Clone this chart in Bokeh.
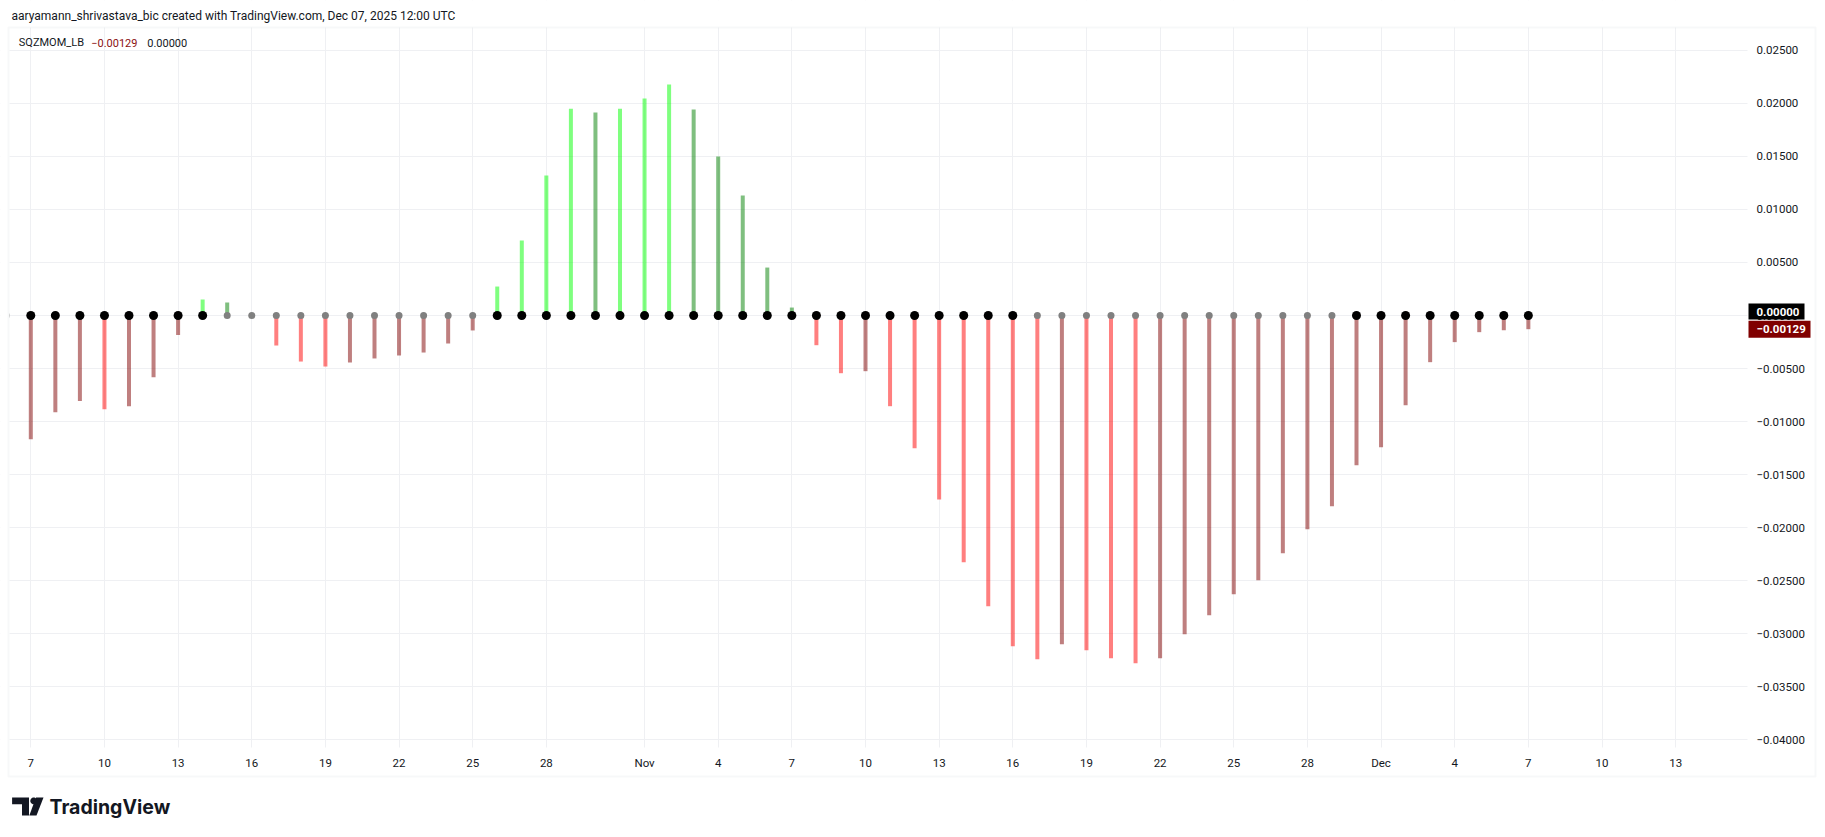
import math
import pandas as pd
from bokeh.plotting import figure
from bokeh.models import (ColumnDataSource, FixedTicker, Label, Range1d,
                          CustomJSTickFormatter, BoxAnnotation, PolyAnnotation)
from bokeh.embed import file_html
from bokeh.resources import INLINE

# ---------------- data ----------------
start_date = "2025-10-06"
end_date = "2025-12-07"
dates = pd.date_range(start_date, end_date, freq="D")

momentum = [
    # Oct 6 .. Oct 31
    -0.01250, -0.01166, -0.00911, -0.00807, -0.00883, -0.00855, -0.00581, -0.00185,
    0.00150, 0.00123, -0.00020, -0.00283, -0.00434, -0.00481, -0.00443, -0.00405,
    -0.00377, -0.00349, -0.00264, -0.00141, 0.00273, 0.00707, 0.01320, 0.01950,
    0.01914, 0.01950,
    # Nov 1 .. Nov 30
    0.02046, 0.02178, 0.01942, 0.01499, 0.01131, 0.00452, 0.00075, -0.00280,
    -0.00544, -0.00525, -0.00855, -0.01251, -0.01735, -0.02325, -0.02740, -0.03117,
    -0.03240, -0.03098, -0.03155, -0.03231, -0.03278, -0.03232, -0.03004, -0.02825,
    -0.02627, -0.02495, -0.02241, -0.02015, -0.01798, -0.01411,
    # Dec 1 .. Dec 7
    -0.01241, -0.00846, -0.00440, -0.00251, -0.00157, -0.00139, -0.00129,
]

# squeeze state per bar (True = squeeze on -> black dot, False -> gray dot)
sqz_on = (
    [False]                 # Oct 6
    + [True] * 8            # Oct 7 - Oct 14
    + [False] * 11          # Oct 15 - Oct 25
    + [True] * 22           # Oct 26 - Nov 16
    + [False] * 13          # Nov 17 - Nov 29
    + [True] * 8            # Nov 30 - Dec 7
)

tick_dates = ["2025-10-07", "2025-10-10", "2025-10-13", "2025-10-16", "2025-10-19",
              "2025-10-22", "2025-10-25", "2025-10-28", "2025-11-01", "2025-11-04",
              "2025-11-07", "2025-11-10", "2025-11-13", "2025-11-16", "2025-11-19",
              "2025-11-22", "2025-11-25", "2025-11-28", "2025-12-01", "2025-12-04",
              "2025-12-07", "2025-12-10", "2025-12-13"]
tick_labels = ["7", "10", "13", "16", "19", "22", "25", "28", "Nov", "4", "7", "10",
               "13", "16", "19", "22", "25", "28", "Dec", "4", "7", "10", "13"]

y_ticks = [-0.040, -0.035, -0.030, -0.025, -0.020, -0.015, -0.010, -0.005,
           0.0, 0.005, 0.010, 0.015, 0.020, 0.025]

header_text = "aaryamann_shrivastava_bic created with TradingView.com, Dec 07, 2025 12:00 UTC"
indicator_name = "SQZMOM_LB"
last_value_text = "\u22120.00129"
zero_value_text = "0.00000"
brand_text = "TradingView"

# ---------------- derived ----------------
origin = pd.Timestamp("2025-10-07")
xs = [(d - origin).days for d in dates]
tick_x = [(pd.Timestamp(t) - origin).days for t in tick_dates]

LIME, GREEN, RED, MAROON = "#00FF00", "#008000", "#FF0000", "#800000"
bar_colors = []
for i, v in enumerate(momentum):
    prev = momentum[i - 1] if i > 0 else v
    if v > 0:
        bar_colors.append(LIME if v > prev else GREEN)
    else:
        bar_colors.append(RED if v < prev else MAROON)
dot_colors = ["#000000" if s else "#808080" for s in sqz_on]
dot_sizes = [9 if s else 7 for s in sqz_on]

src = ColumnDataSource(dict(x=xs, top=momentum, color=bar_colors,
                            dot=dot_colors, size=dot_sizes))

# ---------------- canvas geometry (pixels) ----------------
W, H = 1817, 829
PX_PER_DAY = 24.55
X_FIRST_PX = 30.3          # pixel of first tick day
PX_PER_UNIT = 10608.0
ZERO_PX = 315.0

X0 = -X_FIRST_PX / PX_PER_DAY
X1 = X0 + W / PX_PER_DAY
Y1 = ZERO_PX / PX_PER_UNIT
Y0 = -(H - ZERO_PX) / PX_PER_UNIT


def px_x(px):
    return X0 + px / PX_PER_DAY


def px_y(py):
    return (ZERO_PX - py) / PX_PER_UNIT


def val_px(v):
    return ZERO_PX - v * PX_PER_UNIT


PLOT_L, PLOT_R, PLOT_T, PLOT_B = 9, 1747, 27, 747

FONT = "Roboto"
TXT = "#131722"

p = figure(width=W, height=H, x_range=Range1d(X0, X1), y_range=Range1d(Y0, Y1),
           output_backend="svg", toolbar_location=None, y_axis_location="right",
           min_border_left=0, min_border_right=0, min_border_top=0, min_border_bottom=0)
p.outline_line_color = None
p.background_fill_color = "white"
p.border_fill_color = "white"

# axes (labels drawn inside the canvas, like TradingView's scales)
p.xaxis.ticker = FixedTicker(ticks=tick_x)
p.xaxis.major_label_overrides = {int(t): lab for t, lab in zip(tick_x, tick_labels)}
p.yaxis.ticker = FixedTicker(ticks=y_ticks)
p.yaxis.formatter = CustomJSTickFormatter(
    code="return (tick < -1e-12 ? '\u2212' : '') + Math.abs(tick).toFixed(5);")
for ax in (p.xaxis[0], p.yaxis[0]):
    ax.axis_line_color = None
    ax.major_tick_line_color = None
    ax.minor_tick_line_color = None
    ax.major_tick_in = 0
    ax.major_tick_out = 0
    ax.minor_tick_in = 0
    ax.minor_tick_out = 0
    ax.major_label_text_font = FONT
    ax.major_label_text_font_size = "11.5px"
    ax.major_label_text_color = TXT
p.xaxis.major_label_standoff = -(H - 755)
p.yaxis.major_label_standoff = -(W - 1756)

p.grid.grid_line_color = "#EFF0F3"
p.grid.grid_line_width = 1

# white masks so grid lines stay inside the pane
for kw in (dict(left=px_x(PLOT_R)), dict(bottom=px_y(PLOT_T)), dict(top=px_y(PLOT_B))):
    p.add_layout(BoxAnnotation(fill_color="white", fill_alpha=1, line_color=None,
                               level="underlay", **kw))

# histogram bars and squeeze dots
p.vbar(x="x", top="top", bottom=0, width=0.163, fill_color="color", fill_alpha=0.5,
       line_color=None, source=src)
p.scatter(x="x", y=0, size="size", fill_color="dot", line_color=None, source=src)

# left edge of the pane clips the partially visible first bar
p.add_layout(BoxAnnotation(right=px_x(PLOT_L), fill_color="white", fill_alpha=1,
                           line_color=None, level="annotation"))

# outer pane border
p.add_layout(BoxAnnotation(left=px_x(8), right=px_x(1815), top=px_y(27), bottom=px_y(776),
                           fill_alpha=0, line_color="#E6E8EC", line_width=2,
                           level="annotation"))


def txt(px, py, text, size="12px", color=TXT, style="normal", font=FONT):
    p.add_layout(Label(x=px_x(px), y=px_y(py), text=text, text_font=font,
                       text_font_size=size, text_color=color, text_font_style=style,
                       text_baseline="middle", text_align="left"))


# header & legend
txt(11, 15, header_text, size="12px")
txt(18.3, 42, indicator_name, size="11px")
txt(90.7, 42, last_value_text, size="11px", color="#8B1010")
txt(146.7, 42, zero_value_text, size="11px")

# price labels on the right scale
last_c = val_px(momentum[-1])
zero_c = val_px(0.0) - 4
p.add_layout(BoxAnnotation(left=px_x(1748), right=px_x(1810),
                           top=px_y(last_c - 8.5), bottom=px_y(last_c + 8.5),
                           fill_color="#800000", fill_alpha=1, line_color=None,
                           level="annotation"))
p.add_layout(BoxAnnotation(left=px_x(1748), right=px_x(1804),
                           top=px_y(zero_c - 8), bottom=px_y(zero_c + 8),
                           fill_color="#000000", fill_alpha=1, line_color=None,
                           level="annotation"))
txt(1756, last_c, last_value_text, size="11.5px", color="white", style="bold")
txt(1756, zero_c, zero_value_text, size="11.5px", color="white", style="bold")

# TradingView brand mark
LOGO = "#131722"
t_shape = [(11.6, 797), (28.5, 797), (28.5, 815), (21.5, 815), (21.5, 803.8), (11.6, 803.8)]
slash = [(35.5, 797), (43, 797), (36, 815), (28.8, 815)]
dot_c, dot_r = (33.2, 800.4), 3.4
dot = [(dot_c[0] + dot_r * math.cos(a * math.pi / 12), dot_c[1] + dot_r * math.sin(a * math.pi / 12))
       for a in range(24)]
for shape in (t_shape, slash, dot):
    p.add_layout(PolyAnnotation(xs=[px_x(a) for a, b in shape], ys=[px_y(b) for a, b in shape],
                                fill_color=LOGO, fill_alpha=1, line_color=None,
                                level="annotation"))
txt(49, 806, brand_text, size="19.5px", style="bold", font="Inter", color=LOGO)

open("out.html", "w").write(file_html(p, INLINE))
